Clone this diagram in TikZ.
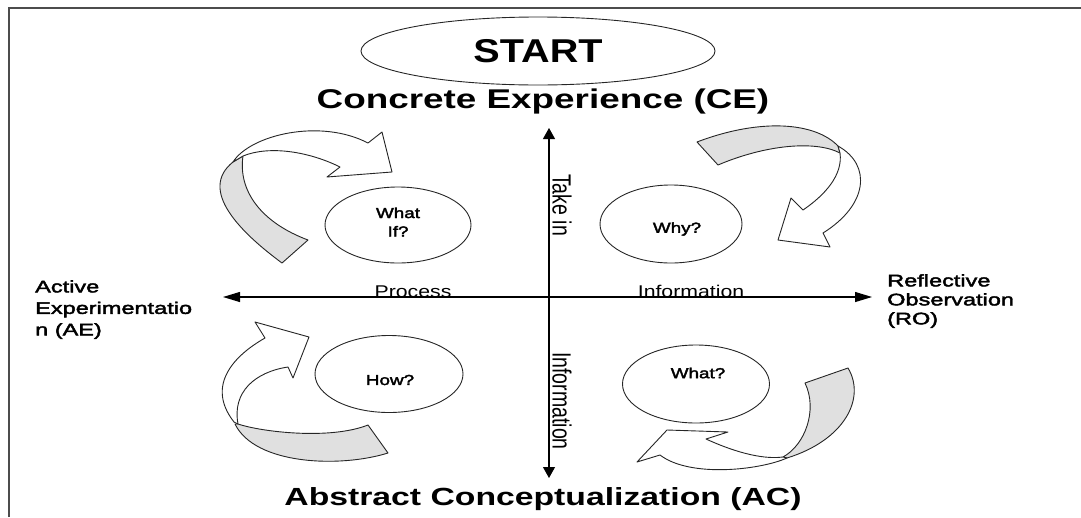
\documentclass[tikz,border=0pt]{standalone}
\usepackage{fontspec}
\setmainfont[FakeStretch=1.35]{Liberation Sans}
\newfontfamily\titlefont[FakeStretch=1.36]{Liberation Sans}
\newfontfamily\startfont[FakeStretch=1.2]{Liberation Sans}
\newfontfamily\medfont[FakeStretch=1.4,FakeBold=2.5]{Liberation Sans}
\newfontfamily\qfont[FakeStretch=1.3,FakeBold=2.5]{Liberation Sans}
\newfontfamily\plainfont[FakeStretch=1.25]{Liberation Sans}
\newfontfamily\vertfont{Liberation Sans}
\usetikzlibrary{arrows.meta,shapes.geometric}
\begin{document}
\begin{tikzpicture}[x=1pt,y=-1pt,
  band/.style={draw=black!85, line width=0.9pt, line join=round},
  tailband/.style={band, fill=black!12},
  headband/.style={band, fill=white},
  bubble/.style={draw=black!85, line width=0.9pt, ellipse, inner sep=0pt},
  qlabel/.style={font=\qfont\fontsize{14.5}{18.5}\selectfont, align=center, inner sep=0pt},
  axis/.style={line width=1.1pt, black},
  vtip/.style={-{Triangle[length=11pt,width=12pt]}},
  htip/.style={-{Triangle[length=17pt,width=10pt]}},
  axlabel/.style={font=\plainfont\fontsize{17}{20}\selectfont, inner sep=0pt},
  vlabel/.style={font=\vertfont\fontsize{19.5}{22}\selectfont, inner sep=0pt, rotate=-90},
  side/.style={align=left, inner sep=0pt, anchor=north west}
]
\useasboundingbox (0,0) rectangle (1081,517);
% frame
\draw[black!70, line width=1.2pt] (9,517) -- (9,8) -- (1081,8);

% START
\node[bubble, minimum width=354pt, minimum height=68pt, font=\startfont\bfseries\fontsize{33}{36}\selectfont] (start) at (538,51) {START};

% titles
\node[anchor=base, inner sep=0pt, font=\titlefont\bfseries\fontsize{27.1}{30}\selectfont] (ce) at (543,108.5) {Concrete Experience (CE)};
\node[anchor=base, inner sep=0pt, font=\titlefont\bfseries\fontsize{24.8}{28}\selectfont] (ac) at (543,505) {Abstract Conceptualization (AC)};

% axes
\coordinate (top) at (549,128);
\coordinate (bot) at (549,478);
\coordinate (left) at (223,297);
\coordinate (right) at (872,297);
\coordinate (mid) at (549,297);
\draw[axis, vtip] (mid) -- (top);
\draw[axis, vtip] (mid) -- (bot);
\draw[axis, htip] (mid) -- (left);
\draw[axis, htip] (mid) -- (right);

\node[axlabel, anchor=base] (proc) at (413,297) {Process};
\node[axlabel, anchor=base] (infoh) at (691,297) {Information};
\node[vlabel] (takein) at (562,205) {\scalebox{1}[1.35]{Take in}};
\node[vlabel] (infov) at (562,401) {\scalebox{1}[1.35]{Information}};

% side labels
\node[side, font=\medfont\fontsize{16.8}{21.5}\selectfont] (ae) at (35,280) {Active\\Experimentatio\\n (AE)};
\node[side, font=\medfont\fontsize{16.8}{19}\selectfont] (ro) at (887,274) {Reflective\\Observation\\(RO)};

% question bubbles
\node[bubble, minimum width=146pt, minimum height=76pt] (whatif) at (398,225) {};
\node[qlabel] (whatift) at (398,222) {What\\If?};
\node[bubble, minimum width=142pt, minimum height=78pt] (why) at (671,224) {};
\node[qlabel] (whyt) at (677,229) {Why?};
\node[bubble, minimum width=148pt, minimum height=77pt] (how) at (389,374) {};
\node[qlabel] (howt) at (390,380) {How?};
\node[bubble, minimum width=147pt, minimum height=78pt] (what) at (696,384) {};
\node[qlabel] (whatt) at (698,373) {What?};

% curved arrow top-left
\draw[tailband] (282,263) .. controls (240,232) and (198,190) .. (233,162) -- (243,156) .. controls (238,190) and (260,222) .. (308,240) -- cycle;
\draw[headband] (233,162) .. controls (250,135) and (320,118) .. (368,143) -- (382,132) -- (392,172) -- (327,177) -- (340,167) .. controls (310,152) and (270,145) .. (243,156) -- cycle;

% curved arrow top-right
\draw[tailband] (697,142) -- (718,165) .. controls (765,145) and (815,140) .. (840,153) -- (838,146) .. controls (815,122) and (760,118) .. (697,142) -- cycle;
\draw[headband] (838,146) .. controls (872,165) and (868,205) .. (823,233) -- (830,247) -- (778,240) -- (791,198) -- (803,210) .. controls (825,195) and (843,175) .. (840,153) -- cycle;

% curved arrow bottom-left
\draw[tailband] (238,424) .. controls (262,432) and (330,440) .. (368,425) -- (388,453) .. controls (340,468) and (255,465) .. (235,424) -- cycle;
\draw[headband] (234,422) .. controls (205,385) and (235,355) .. (265,338) -- (255,322) -- (309,337) -- (293,378) -- (288,367) .. controls (255,372) and (232,392) .. (238,424) -- cycle;

% curved arrow bottom-right
\draw[tailband] (805,383) -- (848,368) .. controls (866,398) and (845,440) .. (787,458) -- (783,457) .. controls (805,445) and (818,410) .. (805,383) -- cycle;
\draw[headband] (787,458) .. controls (760,470) and (690,478) .. (660,455) -- (637,462) -- (667,430) -- (728,432) -- (706,439) .. controls (730,450) and (760,460) .. (783,457) -- cycle;
\end{tikzpicture}
\end{document}
